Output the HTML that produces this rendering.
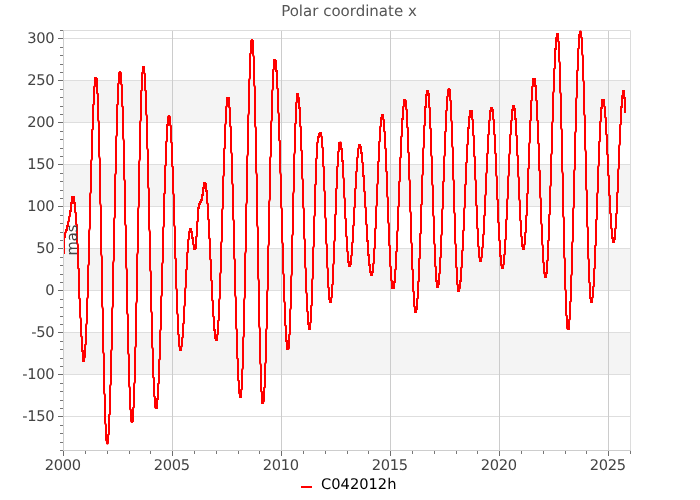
<!DOCTYPE html>
<html><head><meta charset="utf-8"><title>Polar coordinate x</title>
<style>html,body{margin:0;padding:0;background:#fff;width:700px;height:500px;overflow:hidden}</style>
</head><body>
<svg width="700" height="500" viewBox="0 0 700 500" style="position:absolute;left:0;top:0">
<rect width="700" height="500" fill="#fff"/>
<rect x="63" y="80.4" width="567" height="42.0" fill="#f4f4f4"/>
<rect x="63" y="164.4" width="567" height="42.0" fill="#f4f4f4"/>
<rect x="63" y="248.4" width="567" height="42.0" fill="#f4f4f4"/>
<rect x="63" y="332.4" width="567" height="42.0" fill="#f4f4f4"/>
<path d="M63 416.5H631M63 374.5H631M63 332.5H631M63 290.5H631M63 248.5H631M63 206.5H631M63 164.5H631M63 122.5H631M63 80.5H631M63 38.5H631" stroke="#dedede" stroke-width="1" fill="none"/>
<path d="M172.5 30V451M281.5 30V451M390.5 30V451M499.5 30V451M608.5 30V451" stroke="#cccccc" stroke-width="1" fill="none"/>
<path d="M63 30.5H630.5V450" stroke="#dcdcdc" stroke-width="1" fill="none"/>
<path d="M58 416.5H63M58 374.5H63M58 332.5H63M58 290.5H63M58 248.5H63M58 206.5H63M58 164.5H63M58 122.5H63M58 80.5H63M58 38.5H63M63.5 451V456M172.5 451V456M281.5 451V456M390.5 451V456M499.5 451V456M608.5 451V456" stroke="#6e6e6e" stroke-width="1" fill="none"/>
<path d="M60 450.5H63M60 442.5H63M60 433.5H63M60 425.5H63M60 408.5H63M60 400.5H63M60 391.5H63M60 383.5H63M60 366.5H63M60 358.5H63M60 349.5H63M60 341.5H63M60 324.5H63M60 316.5H63M60 307.5H63M60 299.5H63M60 282.5H63M60 274.5H63M60 265.5H63M60 257.5H63M60 240.5H63M60 232.5H63M60 223.5H63M60 215.5H63M60 198.5H63M60 190.5H63M60 181.5H63M60 173.5H63M60 156.5H63M60 148.5H63M60 139.5H63M60 131.5H63M60 114.5H63M60 106.5H63M60 97.5H63M60 89.5H63M60 72.5H63M60 64.5H63M60 55.5H63M60 47.5H63M60 30.5H63M85.5 451V454M107.5 451V454M129.5 451V454M150.5 451V454M194.5 451V454M216.5 451V454M238.5 451V454M259.5 451V454M303.5 451V454M325.5 451V454M347.5 451V454M368.5 451V454M412.5 451V454M434.5 451V454M456.5 451V454M477.5 451V454M521.5 451V454M543.5 451V454M565.5 451V454M586.5 451V454M630.5 451V454" stroke="#777" stroke-width="1" fill="none"/>
<polyline points="64,254 64,237 65,237 65,233 66,232 66,230 67,230 67,226 68,226 68,222 69,221 69,217 70,216 70,211 71,211 71,203 72,203 72,197 73,197 73,196 73,197 74,197 74,203 75,203 75,212 76,213 76,224 77,225 77,243 78,245 78,268 79,269 79,298 80,299 80,317 81,319 81,336 82,337 82,351 83,351 83,361 84,361 84,358 85,357 85,345 86,344 86,325 87,323 87,299 88,297 88,266 89,264 89,231 90,228 90,194 91,192 91,161 92,159 92,130 93,129 93,105 94,104 94,87 95,86 95,78 96,78 96,77 96,79 97,79 97,93 98,94 98,120 99,122 99,156 100,159 100,203 101,206 101,254 102,257 102,306 103,309 103,352 104,354 104,393 105,395 105,423 106,425 106,440 107,441 107,444 108,443 108,435 109,434 109,415 110,414 110,386 111,384 111,351 112,349 112,309 113,306 113,263 114,260 114,219 115,217 115,175 116,173 116,137 117,135 117,105 118,104 118,84 119,83 119,73 120,72 120,71 120,72 121,73 121,84 122,85 122,106 123,107 123,138 124,141 124,179 125,181 125,224 126,226 126,267 127,270 127,313 128,315 128,353 129,355 129,386 130,388 130,409 131,410 131,421 132,422 132,423 132,421 133,421 133,408 134,407 134,384 135,382 135,348 136,346 136,304 137,301 137,255 138,252 138,209 139,206 139,162 140,159 140,122 141,120 141,91 142,90 142,73 143,72 143,67 144,67 144,73 145,74 145,90 146,91 146,114 147,116 147,148 148,150 148,187 149,189 149,229 150,232 150,270 151,272 151,311 152,313 152,347 153,349 153,377 154,378 154,396 155,397 155,407 156,408 156,409 156,408 157,408 157,399 158,399 158,384 159,383 159,360 160,359 160,331 161,329 161,297 162,295 162,264 163,262 163,228 164,226 164,194 165,193 165,166 166,165 166,142 167,141 167,125 168,125 168,117 169,116 169,115 169,116 170,117 170,125 171,126 171,142 172,143 172,166 173,167 173,193 174,195 174,225 175,227 175,258 176,259 176,288 177,290 177,313 178,315 178,334 179,335 179,346 180,347 180,350 181,350 181,347 182,346 182,338 183,337 183,324 184,323 184,307 185,305 185,289 186,287 186,270 187,269 187,253 188,252 188,240 189,239 189,232 190,231 190,229 191,229 191,232 192,232 192,238 193,238 193,244 194,245 194,249 195,249 195,250 195,248 196,248 196,237 197,236 197,222 198,221 198,208 199,208 199,204 200,204 200,202 201,202 201,200 202,200 202,195 203,195 203,188 204,188 204,183 205,183 205,184 206,184 206,191 207,191 207,203 208,204 208,219 209,220 209,238 210,239 210,259 211,260 211,280 212,281 212,300 213,301 213,316 214,317 214,330 215,330 215,338 216,338 216,340 217,340 217,335 218,334 218,321 219,320 219,300 220,298 220,274 221,272 221,243 222,241 222,210 223,208 223,177 224,175 224,149 225,148 225,125 226,123 226,107 227,106 227,98 228,98 228,97 228,98 229,98 229,107 230,108 230,126 231,127 231,152 232,154 232,183 233,185 233,219 234,221 234,258 235,260 235,295 236,298 236,328 237,330 237,358 238,359 238,380 239,381 239,393 240,394 240,397 241,397 241,390 242,389 242,370 243,368 243,338 244,336 244,300 245,297 245,254 246,251 246,205 247,202 247,157 248,154 248,116 249,113 249,80 250,78 250,54 251,53 251,41 252,40 252,39 252,41 253,41 253,55 254,57 254,85 255,87 255,126 256,128 256,172 257,175 257,225 258,228 258,278 259,281 259,326 260,329 260,363 261,365 261,391 262,392 262,403 263,403 263,404 263,402 264,401 264,388 265,387 265,364 266,362 266,330 267,328 267,292 268,289 268,247 269,244 269,202 270,199 270,158 271,156 271,122 272,120 272,91 273,89 273,70 274,69 274,60 275,60 275,59 275,61 276,61 276,71 277,71 277,88 278,89 278,112 279,114 279,140 280,141 280,172 281,175 281,207 282,209 282,242 283,244 283,273 284,275 284,301 285,303 285,325 286,326 286,341 287,341 287,349 288,349 288,350 288,349 289,348 289,335 290,334 290,310 291,308 291,277 292,274 292,236 293,234 293,194 294,191 294,155 295,152 295,124 296,123 296,103 297,102 297,94 298,94 298,97 299,98 299,108 300,108 300,126 301,127 301,150 302,151 302,178 303,180 303,207 304,209 304,238 305,240 305,267 306,269 306,292 307,294 307,311 308,312 308,324 309,324 309,329 310,329 310,323 311,322 311,306 312,305 312,280 313,278 313,248 314,246 314,217 315,215 315,185 316,184 316,159 317,158 317,143 318,142 318,137 319,137 319,134 320,134 320,133 321,133 321,136 322,137 322,147 323,148 323,166 324,167 324,190 325,192 325,217 326,219 326,243 327,245 327,267 328,269 328,287 329,288 329,299 330,299 330,302 331,302 331,298 332,297 332,285 333,284 333,265 334,263 334,242 335,240 335,215 336,214 336,189 337,188 337,167 338,166 338,152 339,151 339,143 340,143 340,142 341,143 341,149 342,149 342,161 343,161 343,177 344,179 344,197 345,199 345,218 346,219 346,236 347,237 347,251 348,252 348,262 349,262 349,266 350,266 350,264 351,264 351,256 352,255 352,243 353,242 353,226 354,225 354,208 355,207 355,189 356,188 356,172 357,171 357,158 358,157 358,149 359,148 359,145 360,145 360,147 361,147 361,153 362,153 362,162 363,163 363,176 364,176 364,191 365,192 365,207 366,208 366,224 367,225 367,241 368,241 368,255 369,255 369,265 370,265 370,272 371,272 371,275 372,275 372,272 373,272 373,264 374,263 374,249 375,248 375,229 376,228 376,207 377,205 377,185 378,183 378,162 379,161 379,142 380,141 380,127 381,126 381,118 382,118 382,115 383,115 383,119 384,120 384,131 385,132 385,148 386,149 386,171 387,172 387,196 388,198 388,222 389,224 389,245 390,246 390,266 391,267 391,280 392,281 392,288 393,288 393,289 393,288 394,288 394,282 395,282 395,270 396,269 396,252 397,251 397,232 398,230 398,207 399,206 399,182 400,181 400,158 401,157 401,137 402,136 402,119 403,119 403,107 404,106 404,100 405,100 405,99 405,100 406,101 406,109 407,110 407,127 408,128 408,152 409,153 409,179 410,181 410,211 411,213 411,242 412,244 412,269 413,270 413,291 414,292 414,306 415,307 415,312 416,312 416,309 417,309 417,299 418,298 418,282 419,281 419,259 420,258 420,234 421,233 421,205 422,204 422,176 423,174 423,149 424,147 424,126 425,125 425,107 426,107 426,95 427,95 427,91 428,91 428,94 429,94 429,107 430,108 430,128 431,129 431,155 432,157 432,184 433,186 433,215 434,217 434,243 435,245 435,266 436,267 436,281 437,281 437,287 438,287 438,284 439,284 439,274 440,273 440,258 441,257 441,236 442,234 442,210 443,208 443,182 444,181 444,157 445,155 445,132 446,131 446,111 447,110 447,97 448,96 448,90 449,89 449,88 449,90 450,90 450,100 451,101 451,120 452,122 452,146 453,148 453,179 454,181 454,212 455,214 455,243 456,245 456,267 457,268 457,284 458,285 458,291 459,291 459,289 460,288 460,281 461,281 461,268 462,267 462,251 463,250 463,231 464,230 464,209 465,207 465,185 466,184 466,163 467,162 467,145 468,144 468,128 469,128 469,117 470,117 470,111 471,111 471,110 471,111 472,111 472,119 473,120 473,135 474,136 474,156 475,157 475,179 476,181 476,205 477,206 477,228 478,229 478,246 479,247 479,257 480,258 480,261 481,261 481,258 482,257 482,248 483,247 483,235 484,234 484,216 485,215 485,196 486,194 486,174 487,172 487,154 488,153 488,135 489,134 489,121 490,120 490,111 491,111 491,108 492,108 492,110 493,110 493,119 494,120 494,134 495,135 495,153 496,154 496,175 497,177 497,199 498,200 498,222 499,223 499,240 500,241 500,256 501,256 501,265 502,266 502,268 503,268 503,265 504,264 504,255 505,254 505,240 506,239 506,220 507,219 507,200 508,198 508,177 509,175 509,155 510,153 510,135 511,134 511,121 512,120 512,110 513,110 513,106 514,106 514,109 515,109 515,119 516,119 516,135 517,136 517,155 518,156 518,176 519,178 519,199 520,201 520,220 521,221 521,236 522,237 522,246 523,246 523,249 524,249 524,245 525,244 525,233 526,232 526,216 527,215 527,194 528,193 528,169 529,168 529,144 530,142 530,121 531,120 531,101 532,100 532,87 533,86 533,79 534,79 534,78 534,79 535,79 535,86 536,86 536,100 537,101 537,120 538,121 538,143 539,144 539,170 540,171 540,197 541,199 541,223 542,225 542,244 543,246 543,262 544,263 544,273 545,274 545,277 546,277 546,273 547,273 547,261 548,260 548,241 549,240 549,215 550,214 550,187 551,185 551,155 552,153 552,123 553,121 553,93 554,91 554,69 555,68 555,49 556,49 556,38 557,37 557,34 558,34 558,41 559,42 559,61 560,63 560,92 561,94 561,128 562,130 562,171 563,174 563,216 564,218 564,257 565,259 565,289 566,291 566,315 567,316 567,328 568,329 568,330 568,329 569,329 569,320 570,319 570,302 571,301 571,276 572,274 572,243 573,241 573,209 574,207 574,171 575,169 575,133 576,131 576,99 577,97 577,71 578,70 578,49 579,48 579,35 580,35 580,31 581,32 581,37 582,38 582,54 583,56 583,80 584,82 584,114 585,116 585,149 586,152 586,189 587,191 587,226 588,228 588,258 589,260 589,282 590,283 590,298 591,298 591,302 592,302 592,298 593,297 593,287 594,286 594,269 595,268 595,246 596,245 596,220 597,219 597,194 598,192 598,167 599,165 599,142 600,141 600,122 601,121 601,108 602,108 602,100 603,100 603,99 603,100 604,100 604,106 605,107 605,117 606,118 606,134 607,135 607,154 608,155 608,175 609,176 609,195 610,196 610,213 611,214 611,228 612,229 612,238 613,238 613,242 614,242 614,239 615,239 615,229 616,228 616,214 617,213 617,193 618,192 618,170 619,168 619,146 620,144 620,125 621,124 621,107 622,107 622,96 623,95 623,91 624,91 624,98 625,98 625,113" fill="none" stroke="#ff0000" stroke-width="2" stroke-linejoin="miter" stroke-miterlimit="1.5" stroke-linecap="butt"/>
<path d="M63.5 30V451M63 450.5H631" stroke="#cdcdcd" stroke-width="1" fill="none"/>
<g font-family="'DejaVu Sans', Verdana, 'Liberation Sans', sans-serif" font-size="14.67" text-rendering="geometricPrecision" fill="#444">
<text x="54.4" y="421" letter-spacing="-0.3" text-anchor="end">-150</text>
<text x="54.4" y="379" letter-spacing="-0.3" text-anchor="end">-100</text>
<text x="54.4" y="337" letter-spacing="-0.3" text-anchor="end">-50</text>
<text x="54.4" y="295" letter-spacing="-0.3" text-anchor="end">0</text>
<text x="54.4" y="253" letter-spacing="-0.3" text-anchor="end">50</text>
<text x="54.4" y="211" letter-spacing="-0.3" text-anchor="end">100</text>
<text x="54.4" y="169" letter-spacing="-0.3" text-anchor="end">150</text>
<text x="54.4" y="127" letter-spacing="-0.3" text-anchor="end">200</text>
<text x="54.4" y="85" letter-spacing="-0.3" text-anchor="end">250</text>
<text x="54.4" y="43" letter-spacing="-0.3" text-anchor="end">300</text>
<text x="62.8" y="470" letter-spacing="-0.3" text-anchor="middle">2000</text>
<text x="171.8" y="470" letter-spacing="-0.3" text-anchor="middle">2005</text>
<text x="280.8" y="470" letter-spacing="-0.3" text-anchor="middle">2010</text>
<text x="389.8" y="470" letter-spacing="-0.3" text-anchor="middle">2015</text>
<text x="498.8" y="470" letter-spacing="-0.3" text-anchor="middle">2020</text>
<text x="607.8" y="470" letter-spacing="-0.3" text-anchor="middle">2025</text>
<text transform="translate(77,240) rotate(-90)" text-anchor="middle">mas</text>
<text x="349" y="16" text-anchor="middle" font-size="15" fill="#555">Polar coordinate x</text>
<text transform="translate(321,489)" fill="#000">C042012h</text>
</g>
<path d="M301 487H312" stroke="#ff0000" stroke-width="2" fill="none"/>
</svg>
</body></html>
